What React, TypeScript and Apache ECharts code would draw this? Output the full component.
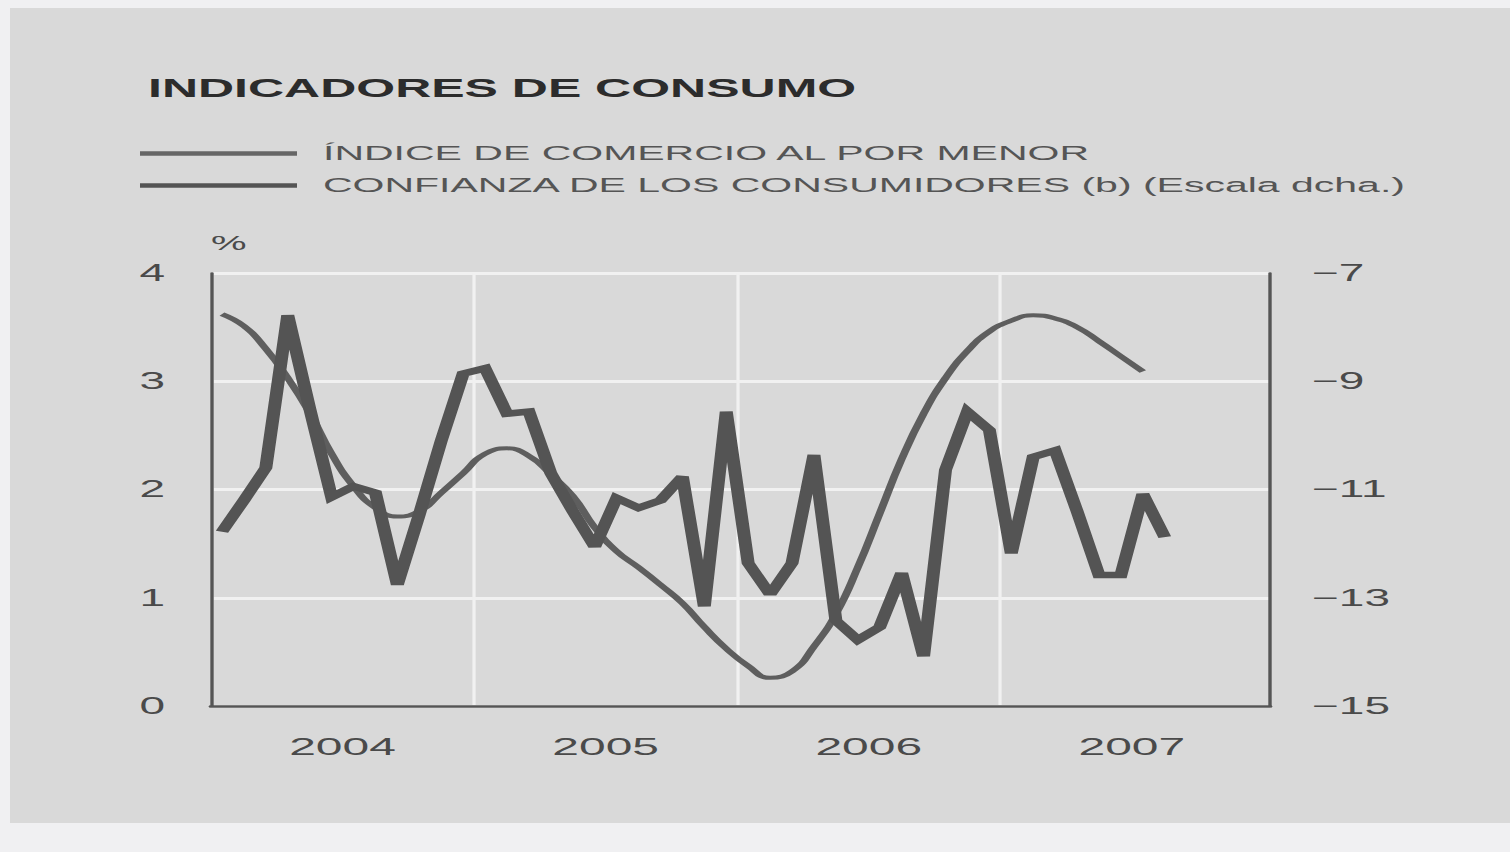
import React, { useEffect, useRef } from 'react';
import * as echarts from 'echarts';

// Years shown on the time axis (labels centred on each year)
const years = ['2004', '2005', '2006', '2007'];
const yearCentres = [6, 18, 30, 42]; // month offsets (from Jan 2004) of each year's middle
const yearBoundaries = [0, 12, 24, 36];

// Índice de comercio al por menor (%, left scale), monthly from Jan 2004
const retail = [
  3.62, 3.51, 3.30, 3.03, 2.71, 2.33, 2.03, 1.83, 1.75, 1.80, 1.97, 2.15,
  2.33, 2.38, 2.31, 2.14, 1.94, 1.65, 1.43, 1.28, 1.12, 0.95, 0.73, 0.53,
  0.37, 0.26, 0.32, 0.55, 0.85, 1.28, 1.78, 2.28, 2.70, 3.03, 3.28, 3.46,
  3.56, 3.61, 3.58, 3.50, 3.37, 3.23, 3.09,
];

// Confianza de los consumidores (right scale), monthly from Jan 2004
const confidence = [
  -11.78, -11.2, -10.6, -7.78, -9.5, -11.14, -10.94, -11.06, -12.76, -11.46, -10.1, -8.86,
  -8.76, -9.6, -9.56, -10.7, -11.4, -12.06, -11.16, -11.34, -11.2, -10.76, -13.16, -9.56,
  -12.36, -12.94, -12.36, -10.36, -13.42, -13.78, -13.54, -12.54, -14.08, -10.64, -9.56, -9.9,
  -12.18, -10.4, -10.28, -11.4, -12.58, -12.58, -11.08, -11.88,
];

const seriesNames = [
  'ÍNDICE DE COMERCIO AL POR MENOR',
  'CONFIANZA DE LOS CONSUMIDORES (b) (Escala dcha.)',
];

const FONT = '"Liberation Sans", Arial, Helvetica, sans-serif';
const TEXT = '#4a4a4a';

export default function App() {
  const ref = useRef<HTMLDivElement>(null);

  useEffect(() => {
    const chart = echarts.init(ref.current!, null, { renderer: 'svg' });
    chart.setOption({
      animation: false,
      textStyle: { fontFamily: FONT },
      title: {
        text: 'INDICADORES DE CONSUMO',
        left: 69,
        top: 71,
        textStyle: { fontFamily: FONT, fontSize: 25, fontWeight: 'bold', color: '#2c2c2c' },
      },
      legend: {
        data: seriesNames,
        orient: 'vertical',
        left: 65,
        top: 138,
        icon: 'rect',
        itemWidth: 78.5,
        itemHeight: 4.5,
        itemGap: 11,
        selectedMode: false,
        textStyle: { fontFamily: FONT, fontSize: 20.5, color: '#555', padding: [3, 0, 0, 8] },
      },
      grid: { left: 105.5, right: 120, top: 273, bottom: 146 },
      xAxis: {
        type: 'value',
        min: 0,
        max: 48.3,
        interval: 12,
        axisLine: { show: true, lineStyle: { color: '#555', width: 2.5 } },
        axisTick: { show: false, customValues: yearBoundaries },
        splitLine: { show: true, lineStyle: { color: '#f1f1f1', width: 1.6 } },
        axisLabel: {
          customValues: yearCentres,
          formatter: (v: number) => years[yearCentres.indexOf(v)] ?? '',
          margin: 29,
          fontSize: 24,
          color: TEXT,
          fontFamily: FONT,
        },
      },
      yAxis: [
        {
          type: 'value',
          min: 0,
          max: 4,
          interval: 1,
          position: 'left',
          name: '%',
          nameLocation: 'end',
          nameGap: 30,
          nameTextStyle: { fontFamily: FONT, fontSize: 20, color: TEXT, align: 'left', verticalAlign: 'middle' },
          axisLine: { show: true, lineStyle: { color: '#555', width: 1.7 } },
          axisTick: { show: false },
          splitLine: { show: true, lineStyle: { color: '#f1f1f1', width: 3 } },
          axisLabel: { margin: 23, fontSize: 23, color: TEXT, fontFamily: FONT },
        },
        {
          type: 'value',
          min: -15,
          max: -7,
          interval: 2,
          position: 'right',
          axisLine: { show: true, lineStyle: { color: '#555', width: 1.7 } },
          axisTick: { show: false },
          splitLine: { show: false },
          axisLabel: {
            margin: 21,
            fontSize: 23,
            color: TEXT,
            fontFamily: FONT,
            formatter: (v: number) => String(v).replace('-', '−'),
          },
        },
      ],
      series: [
        {
          name: seriesNames[0],
          type: 'line',
          yAxisIndex: 0,
          smooth: 0.5,
          showSymbol: false,
          color: '#666666',
          lineStyle: { color: '#5e5e5e', width: 4 },
          data: retail.map((v, i) => [i + 0.5, v]),
        },
        {
          name: seriesNames[1],
          type: 'line',
          yAxisIndex: 1,
          showSymbol: false,
          color: '#545454',
          lineStyle: { color: '#545454', width: 6.5, join: 'miter', miterLimit: 3 },
          data: confidence.map((v, i) => [i + 0.5, v]),
        },
      ],
    });
    return () => chart.dispose();
  }, []);

  return (
    <div
      style={{
        position: 'fixed',
        left: 0,
        top: 0,
        width: 1510,
        height: 852,
        background: '#f0f0f2',
        overflow: 'hidden',
      }}
    >
      <div style={{ position: 'absolute', left: 10, top: 8, width: 1500, height: 815, background: '#d9d9d9' }} />
      <div
        ref={ref}
        style={{
          position: 'absolute',
          left: 0,
          top: 0,
          width: 755,
          height: 852,
          transform: 'scaleX(2)',
          transformOrigin: '0 0',
        }}
      />
    </div>
  );
}
